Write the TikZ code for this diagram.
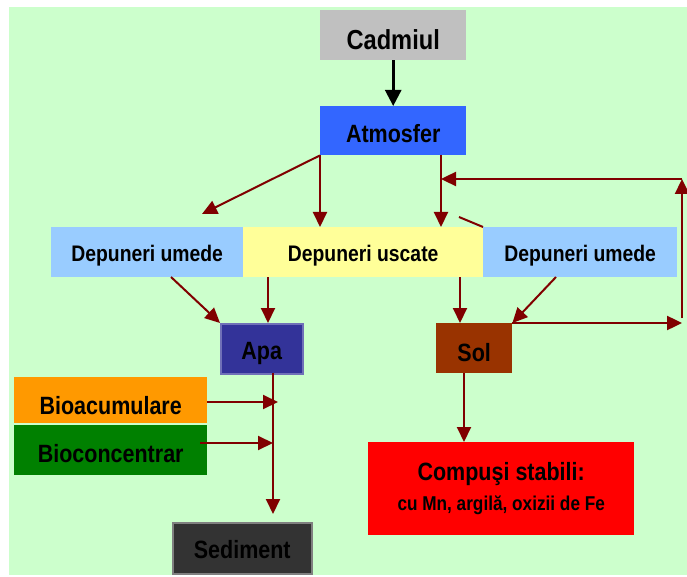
\documentclass[tikz,border=0pt]{standalone}
\usepackage{fontspec}
\setmainfont{Liberation Sans}[FakeStretch=0.86]
\usetikzlibrary{arrows.meta}
\definecolor{cdbg}{HTML}{CCFFCC}
\definecolor{cdgrey}{HTML}{C0C0C0}
\definecolor{cdatm}{HTML}{3366FF}
\definecolor{cdwet}{HTML}{99CCFF}
\definecolor{cddry}{HTML}{FFFF99}
\definecolor{cdwater}{HTML}{333399}
\definecolor{cdsoil}{HTML}{993300}
\definecolor{cdorange}{HTML}{FF9900}
\definecolor{cdgreen}{HTML}{008000}
\definecolor{cdsed}{HTML}{333333}
\definecolor{cdflow}{HTML}{800000}

\begin{document}
\begin{tikzpicture}[x=1pt,y=-1pt,>={Triangle[length=15pt,width=14pt]}]
  \tikzstyle{box}=[inner sep=0pt, anchor=north west, text=black, font=\fontsize{25}{28}\selectfont\bfseries]
  \tikzstyle{lowtext}=[text height=24pt, text depth=0pt]
  \tikzstyle{rowbox}=[box, minimum height=50pt, text height=18pt, text depth=0pt, font=\fontsize{22.5}{26}\selectfont\bfseries]
  \tikzstyle{flow}=[->, draw=cdflow, fill=cdflow, line width=2pt]
  \tikzstyle{loop}=[flow, line width=2.4pt]

  \path[use as bounding box] (0,0) rectangle (687,577);
  \fill[cdbg] (9,7) rectangle (687,575);

  % Source and atmosphere
  \node[box, lowtext, text height=28pt, fill=cdgrey, minimum width=146pt, minimum height=50pt, font=\fontsize{27.5}{30}\selectfont\bfseries] (cad) at (320,10) {Cadmiul};
  \node[box, lowtext, fill=cdatm, minimum width=146pt, minimum height=49pt] (atm) at (320,106) {Atmosfer};

  % Deposition row
  \node[rowbox, fill=cdwet, minimum width=192pt] (umL) at (51,227) {Depuneri umede};
  \node[rowbox, fill=cddry, minimum width=240pt] (usc) at (243,227) {Depuneri uscate};
  \node[rowbox, fill=cdwet, minimum width=194pt] (umR) at (483,227) {Depuneri umede};

  % Receptors
  \node[box, lowtext, text height=22pt, fill=cdwater, draw=cdwater!70!white, line width=1.5pt, minimum width=82pt, minimum height=50pt] (apa) at (220,323) {Apa};
  \node[box, lowtext, text height=26pt, fill=cdsoil, minimum width=76pt, minimum height=50pt] (sol) at (436,323) {Sol};
  \node[box, lowtext, text height=28pt, fill=cdorange, minimum width=193pt, minimum height=46pt] (bioA) at (14,377) {Bioacumulare};
  \node[box, lowtext, fill=cdgreen, minimum width=193pt, minimum height=50pt] (bioC) at (14,425) {Bioconcentrar};
  \node[box, lowtext, text height=20pt, fill=cdsed, draw=gray, line width=1.5pt, minimum width=139pt, minimum height=51pt] (sed) at (172,522) {Sediment};
  \node[box, fill=red, minimum width=266pt, minimum height=93pt, align=center] (comp) at (368,442)
    {Compuşi stabili:\\[2pt]{\fontsize{20}{22}\selectfont\bfseries cu Mn, argilă, oxizii de Fe}};

  % Free ends of the connectors
  \coordinate (atmR) at (441,155);
  \coordinate (wetLtip) at (202,214);
  \coordinate (umLout) at (171,277);
  \coordinate (uscL) at (268,277);
  \coordinate (uscR) at (460,277);
  \coordinate (umRout) at (556,277);
  \coordinate (loopSE) at (682,323);
  \coordinate (loopNE) at (682,179);
  \coordinate (stray) at (459,217);
  \coordinate (bioAtip) at (278,402);
  \coordinate (bioCtip) at (273,443);
  \coordinate (apaOut) at (273,373);
  \coordinate (sedTip) at (273,514);
  \coordinate (solOut) at (464,373);

  \draw[->, line width=2.6pt, fill=black, >={Triangle[length=16pt,width=16pt]}] (cad) -- (atm);

  \draw[flow] (atm.south west) -- (wetLtip);
  \draw[flow] (atm.south west) -- (atm.south west |- usc.north);
  \draw[flow] (atmR) -- (atmR |- usc.north);
  \draw[draw=cdflow, line width=2pt] (stray) -- (umR.north west);

  \draw[flow] (umLout) -- (apa.north west);
  \draw[flow] (uscL) -- (uscL |- apa.north);
  \draw[flow] (uscR) -- (uscR |- sol.north);
  \draw[flow] (umRout) -- (sol.north east);

  % Feedback from soil back to the atmosphere
  \draw[loop] (sol.north east) -- (loopSE);
  \draw[loop] ([yshift=5pt]loopSE) -- (loopNE);
  \draw[loop] (loopNE) -- (atmR |- loopNE);

  \draw[flow] (bioA.east |- bioAtip) -- (bioAtip);
  \draw[flow] ([xshift=-7pt]bioC.east |- bioCtip) -- (bioCtip);
  \draw[flow] (apaOut) -- (sedTip);
  \draw[flow] (solOut) -- (solOut |- comp.north);
\end{tikzpicture}
\end{document}
